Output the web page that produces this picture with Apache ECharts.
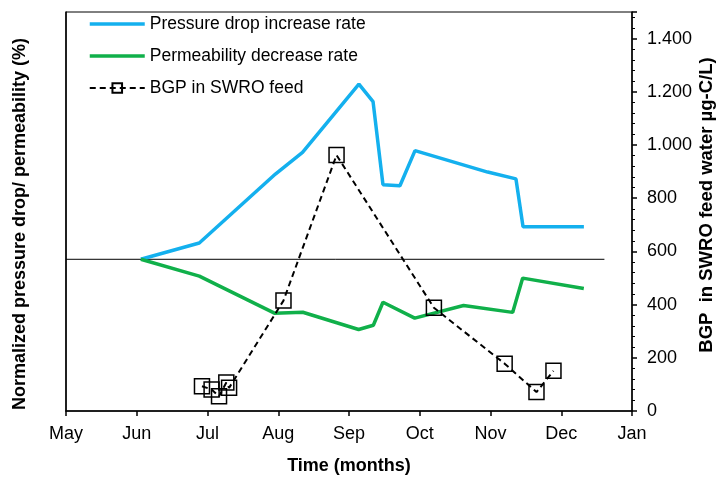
<!DOCTYPE html>
<html><head><meta charset="utf-8">
<script src="https://cdn.jsdelivr.net/npm/echarts@6/dist/echarts.min.js"></script>
<style>html,body{margin:0;padding:0;background:#fff}#c{width:724px;height:480px}</style>
</head><body><div id="c"></div>
<script>
// x values in months since 1 May (May=0 ... Jan=8)
const monthLabels = ['May','Jun','Jul','Aug','Sep','Oct','Nov','Dec','Jan'];
const pressureX = [1.058,1.884,2.96,3.343,4.14,4.34,4.48,4.72,4.933,5.96,6.36,6.46,7.32];
const pressureY = [1.0,1.107,1.562,1.705,2.154,2.039,1.492,1.485,1.716,1.575,1.53,1.215,1.215];
const permX = [1.058,1.884,2.946,3.347,4.136,4.344,4.48,4.929,5.619,6.313,6.455,7.319];
const permY = [1.0,0.889,0.645,0.651,0.537,0.565,0.717,0.612,0.695,0.650,0.876,0.808];
const bgpX = [1.922,2.058,2.163,2.266,2.305,3.074,3.824,5.20,6.20,6.65,6.89];
const bgpY = [93,81,55,107,87,415,962,388,178,71,151];
const baseX = [0,7.61];
const baseY = [1.0,1.0];
const zip = (a,b)=>a.map((v,i)=>[v,b[i]]);
const fmt = v => String(v).replace(/\B(?=(\d{3})+(?!\d))/g,'.');
const FF = 'Liberation Sans, Arial, sans-serif';
const chart = echarts.init(document.getElementById('c'), null, {renderer:'canvas'});
chart.setOption({
  animation:false,
  backgroundColor:'#fff',
  textStyle:{fontFamily:FF},
  grid:{left:66,right:92,top:12,bottom:64,show:true,borderColor:'#000',borderWidth:1},
  legend:{
    orient:'vertical',left:88,top:15,padding:0,itemWidth:55,itemHeight:12,itemGap:14,
    data:[
      {name:'Pressure drop increase rate',itemStyle:{opacity:0},lineStyle:{width:3.5}},
      {name:'Permeability decrease rate',itemStyle:{opacity:0},lineStyle:{width:3.5}},
      {name:'BGP in SWRO feed',lineStyle:{width:2}}
    ],
    textStyle:{fontSize:17.5,lineHeight:18,color:'#000',fontFamily:FF}
  },
  graphic:[{
    type:'text',x:20,y:224,rotation:Math.PI/2,silent:true,
    style:{text:'Normalized pressure drop/ permeability (%)',fill:'#000',font:'bold 18px '+FF,align:'center',verticalAlign:'middle'}
  },{
    type:'text',x:707,y:205,rotation:Math.PI/2,silent:true,
    style:{text:'BGP  in SWRO feed water \u00b5g-C/L)',fill:'#000',font:'bold 18.5px '+FF,align:'center',verticalAlign:'middle'}
  }],
  xAxis:{
    type:'value',min:0,max:8,interval:1,
    name:'Time (months)',nameLocation:'middle',nameGap:46,
    nameTextStyle:{fontSize:18,fontWeight:'bold',color:'#000',fontFamily:FF},
    axisLine:{lineStyle:{color:'#000',width:1.5}},
    axisTick:{show:true,length:5,lineStyle:{color:'#000',width:1.5}},
    axisLabel:{fontSize:18,color:'#000',margin:14,formatter:v=>monthLabels[v]||''},
    splitLine:{show:false}
  },
  yAxis:[{
    type:'value',min:0,max:2.63,position:'left',
    axisLine:{show:true,lineStyle:{color:'#000',width:1.5}},
    axisTick:{show:false},axisLabel:{show:false},splitLine:{show:false}
  },{
    type:'value',min:0,max:1500,interval:200,position:'right',
    axisLine:{show:true,lineStyle:{color:'#000',width:1.5}},
    axisTick:{show:true,length:5,lineStyle:{color:'#000',width:1.5}},
    minorTick:{show:true,splitNumber:5,length:3,lineStyle:{color:'#000',width:1}},
    axisLabel:{fontSize:18,color:'#000',margin:15,showMaxLabel:false,formatter:v=>v>1400?'':fmt(v)},
    splitLine:{show:false}
  }],
  series:[{
    name:'Pressure drop increase rate',type:'line',yAxisIndex:0,symbol:'none',
    data:zip(pressureX,pressureY),lineStyle:{color:'#14b0ee',width:3.5},itemStyle:{color:'#14b0ee'},z:3
  },{
    name:'Permeability decrease rate',type:'line',yAxisIndex:0,symbol:'none',
    data:zip(permX,permY),lineStyle:{color:'#10b04a',width:3.5},itemStyle:{color:'#10b04a'},z:3
  },{
    name:'BGP in SWRO feed',type:'line',yAxisIndex:1,symbol:'rect',symbolSize:15,
    data:zip(bgpX,bgpY),
    lineStyle:{color:'#000',width:2,type:[6,4]},
    itemStyle:{color:'rgba(0,0,0,0)',borderColor:'#000',borderWidth:1.5},z:4
  },{
    name:'baseline',type:'line',yAxisIndex:0,symbol:'none',silent:true,
    data:zip(baseX,baseY),lineStyle:{color:'#000',width:1},z:2
  }]
});
</script></body></html>
